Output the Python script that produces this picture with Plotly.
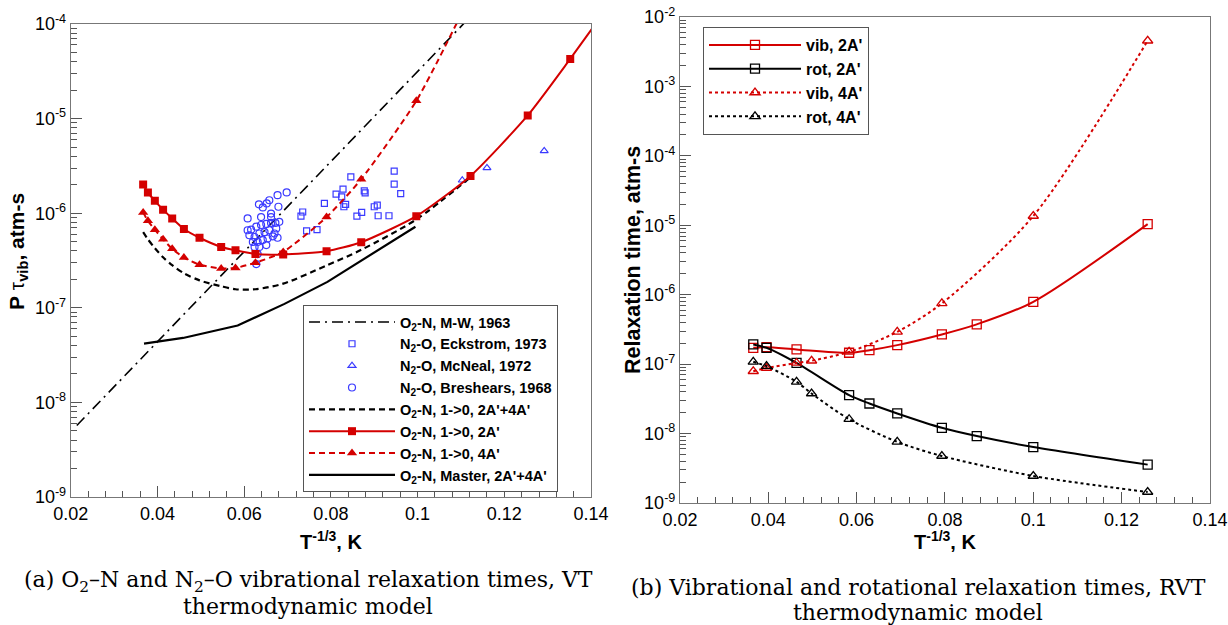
import plotly.graph_objects as go

# ---------------- Left panel data (a) ----------------
mw_x = [0.0214, 0.115]
mw_y = [5.7e-9, 1.63e-4]

eck_x = [0.0846, 0.0812, 0.0828, 0.0825, 0.0834, 0.0830, 0.0785, 0.0877, 0.0879, 0.0946, 0.0946,
         0.0961, 0.0900, 0.0907, 0.0871, 0.0860, 0.0909, 0.0934, 0.0768, 0.0744, 0.0735, 0.0731]
eck_y = [2.42e-6, 1.59e-6, 1.80e-6, 1.49e-6, 1.24e-6, 1.17e-6, 1.27e-6, 1.72e-6, 1.64e-6, 2.78e-6, 2.03e-6,
         1.61e-6, 1.17e-6, 1.22e-6, 1.02e-6, 9.3e-7, 9.4e-7, 9.4e-7, 6.7e-7, 6.5e-7, 1.03e-6, 9.3e-7]

mcn_x = [0.1103, 0.1160, 0.1292]
mcn_y = [2.23e-6, 3.01e-6, 4.56e-6]

bre_x = [0.0608, 0.0634, 0.0643, 0.0658, 0.0662, 0.0677, 0.0679, 0.0698, 0.0652, 0.0616, 0.0628, 0.0639,
         0.0651, 0.0662, 0.0672, 0.0612, 0.0624, 0.0635, 0.0647, 0.0658, 0.0674, 0.0620, 0.0631, 0.0643,
         0.0654, 0.0666, 0.0677, 0.0624, 0.0635, 0.0651, 0.0631, 0.0628, 0.0608, 0.0662, 0.0670, 0.0639, 0.0681]
bre_y = [8.8e-7, 1.24e-6, 1.15e-6, 1.37e-6, 9.9e-7, 1.55e-6, 1.17e-6, 1.66e-6, 1.27e-6, 6.7e-7, 7.2e-7, 7.5e-7,
         7.7e-7, 7.9e-7, 7.9e-7, 5.85e-7, 5.6e-7, 6.1e-7, 6.3e-7, 6.6e-7, 6.9e-7, 4.97e-7, 4.97e-7, 5.2e-7,
         5.4e-7, 5.7e-7, 5.5e-7, 4.4e-7, 4.4e-7, 4.6e-7, 3.7e-7, 2.9e-7, 6.6e-7, 9.1e-7, 6.1e-7, 9.1e-7, 8.1e-7]

sum_x = [0.0367, 0.0378, 0.0394, 0.0413, 0.0434, 0.0461, 0.0497, 0.0547, 0.0580, 0.0626, 0.0690,
         0.0790, 0.0870, 0.0997, 0.1122]
sum_y = [6.3e-7, 5.3e-7, 4.27e-7, 3.42e-7, 2.82e-7, 2.32e-7, 1.95e-7, 1.69e-7, 1.57e-7, 1.57e-7, 1.8e-7,
         2.8e-7, 4.1e-7, 8.6e-7, 2.4e-6]

a2_x = [0.0367, 0.0378, 0.0394, 0.0413, 0.0434, 0.0461, 0.0497, 0.0547, 0.0580, 0.0626, 0.0690,
        0.0790, 0.0870, 0.0997, 0.1122, 0.1254, 0.1352, 0.1494]
a2_y = [2.01e-6, 1.66e-6, 1.35e-6, 1.09e-6, 8.8e-7, 6.8e-7, 5.5e-7, 4.4e-7, 4.05e-7, 3.7e-7, 3.66e-7,
        3.96e-7, 4.93e-7, 9.3e-7, 2.48e-6, 1.08e-5, 4.27e-5, 3.4e-4]

a4_x = [0.0367, 0.0378, 0.0394, 0.0413, 0.0434, 0.0461, 0.0497, 0.0547, 0.0580, 0.0626, 0.0690,
        0.0790, 0.0870, 0.0997, 0.1122]
a4_y = [1.02e-6, 8.3e-7, 6.7e-7, 5.3e-7, 4.2e-7, 3.4e-7, 2.86e-7, 2.6e-7, 2.64e-7, 3.0e-7, 3.9e-7,
        9.1e-7, 2.29e-6, 1.54e-5, 2.0e-4]

ms_x = [0.0369, 0.0459, 0.0585, 0.0693, 0.0792, 0.0995]
ms_y = [4.18e-8, 4.8e-8, 6.5e-8, 1.1e-7, 1.88e-7, 7.2e-7]

# ---------------- Right panel data (b) ----------------
r2_x = [0.0366, 0.0396, 0.0464, 0.0583, 0.0629, 0.0692, 0.0793, 0.0872, 0.1000, 0.1259]
vib2A = [1.72e-7, 1.75e-7, 1.63e-7, 1.46e-7, 1.59e-7, 1.88e-7, 2.68e-7, 3.74e-7, 7.9e-7, 1.04e-5]
rot2A = [1.92e-7, 1.72e-7, 1.04e-7, 3.57e-8, 2.71e-8, 1.95e-8, 1.21e-8, 9.2e-9, 6.4e-9, 3.57e-9]
r4_x = [0.0366, 0.0396, 0.0464, 0.0498, 0.0583, 0.0692, 0.0793, 0.1000, 0.1259]
vib4A = [7.9e-8, 8.8e-8, 1.04e-7, 1.12e-7, 1.50e-7, 2.92e-7, 7.5e-7, 1.36e-5, 4.55e-3]
rot4A = [1.08e-7, 9.35e-8, 5.56e-8, 3.78e-8, 1.61e-8, 7.6e-9, 4.75e-9, 2.45e-9, 1.44e-9]

x_ticks = [0.02, 0.04, 0.06, 0.08, 0.10, 0.12, 0.14]
x_ticktext = ["0.02", "0.04", "0.06", "0.08", "0.1", "0.12", "0.14"]

RED = "#d40000"
BLUE = "#3a3aff"
SANS = "Liberation Sans, Arial, sans-serif"
SERIF = "DejaVu Serif, serif"

fig = go.Figure()

def L(name, x, y, **kw):
    fig.add_trace(go.Scatter(x=x, y=y, name=name, xaxis="x", yaxis="y", legend="legend", **kw))

def R(name, x, y, **kw):
    fig.add_trace(go.Scatter(x=x, y=y, name=name, xaxis="x2", yaxis="y2", legend="legend2", **kw))

L("O<sub>2</sub>-N, M-W, 1963", mw_x, mw_y, mode="lines",
  line=dict(color="black", width=1.6, dash="11px,5px,2px,5px"))
L("N<sub>2</sub>-O, Eckstrom, 1973", eck_x, eck_y, mode="markers",
  marker=dict(symbol="square-open", size=6, color=BLUE, line=dict(width=1.2, color=BLUE)))
L("N<sub>2</sub>-O, McNeal, 1972", mcn_x, mcn_y, mode="markers",
  marker=dict(symbol="triangle-up-open", size=7, color=BLUE, line=dict(width=1.2, color=BLUE)))
L("N<sub>2</sub>-O, Breshears, 1968", bre_x, bre_y, mode="markers",
  marker=dict(symbol="circle-open", size=7, color=BLUE, line=dict(width=1.2, color=BLUE)))
L("O<sub>2</sub>-N, 1->0, 2A'+4A'", sum_x, sum_y, mode="lines",
  line=dict(color="black", width=2.2, dash="6px,4px", shape="spline", smoothing=0.8))
L("O<sub>2</sub>-N, 1->0, 2A'", a2_x, a2_y, mode="lines+markers",
  line=dict(color=RED, width=2, shape="spline", smoothing=0.6),
  marker=dict(symbol="square", size=8, color=RED))
L("O<sub>2</sub>-N, 1->0, 4A'", a4_x, a4_y, mode="lines+markers",
  line=dict(color=RED, width=2, dash="6px,4px", shape="spline", smoothing=0.6),
  marker=dict(symbol="triangle-up", size=9, color=RED))
L("O<sub>2</sub>-N, Master, 2A'+4A'", ms_x, ms_y, mode="lines",
  line=dict(color="black", width=2.2))

R("vib, 2A'", r2_x, vib2A, mode="lines+markers",
  line=dict(color=RED, width=2, shape="spline", smoothing=0.8),
  marker=dict(symbol="square-open", size=9, color=RED, line=dict(width=1.3, color=RED)))
R("rot, 2A'", r2_x, rot2A, mode="lines+markers",
  line=dict(color="black", width=2, shape="spline", smoothing=0.8),
  marker=dict(symbol="square-open", size=9, color="black", line=dict(width=1.3, color="black")))
R("vib, 4A'", r4_x, vib4A, mode="lines+markers",
  line=dict(color=RED, width=2, dash="dot", shape="spline", smoothing=0.8),
  marker=dict(symbol="triangle-up-open", size=9, color=RED, line=dict(width=1.3, color=RED)))
R("rot, 4A'", r4_x, rot4A, mode="lines+markers",
  line=dict(color="black", width=2, dash="dot", shape="spline", smoothing=0.8),
  marker=dict(symbol="triangle-up-open", size=9, color="black", line=dict(width=1.3, color="black")))

def minor_log(lo, hi):
    vals = []
    for d in range(lo, hi):
        for k in range(2, 10):
            vals.append(k * 10.0 ** d)
    return vals

x_minor = [round(0.02 + 0.004 * i, 4) for i in range(31) if i % 5 != 0]

axis_common = dict(showline=True, mirror=True, linecolor="#777777", linewidth=1, automargin=False,
                   showgrid=False, zeroline=False, ticks="inside", tickcolor="#555555",
                   tickfont=dict(family=SANS, size=18, color="black"))

xa = dict(axis_common, range=[0.02, 0.14], tickvals=x_ticks, ticktext=x_ticktext, ticklen=11,
          minor=dict(tickvals=x_minor, ticks="inside", ticklen=6, tickcolor="#555555", showgrid=False))

left_y_vals = [10.0 ** e for e in range(-9, -3)]
left_y_text = ["10<sup>%d</sup>" % e for e in range(-9, -3)]
right_y_vals = [10.0 ** e for e in range(-9, -1)]
right_y_text = ["10<sup>%d</sup>" % e for e in range(-9, -1)]

fig.update_layout(
    width=1228, height=625,
    margin=dict(l=0, r=0, t=0, b=0),
    paper_bgcolor="white", plot_bgcolor="white",
    font=dict(family=SANS, color="black"),
    xaxis=dict(xa, domain=[0.0576, 0.4813], anchor="y"),
    yaxis=dict(axis_common, type="log", range=[-9, -4], domain=[0.2048, 0.9616], anchor="x",
               tickvals=left_y_vals, ticktext=left_y_text, ticklen=11,
               minor=dict(tickvals=minor_log(-9, -4), ticks="inside", ticklen=6,
                          tickcolor="#555555", showgrid=False)),
    xaxis2=dict(xa, domain=[0.5537, 0.9853], anchor="y2"),
    yaxis2=dict(axis_common, type="log", range=[-9, -2], domain=[0.1952, 0.9728], anchor="x2",
                tickvals=right_y_vals, ticktext=right_y_text, ticklen=11,
                minor=dict(tickvals=minor_log(-9, -2), ticks="inside", ticklen=6,
                           tickcolor="#555555", showgrid=False)),
    legend=dict(x=303 / 1228, y=1 - 305 / 625, xanchor="left", yanchor="top",
                bgcolor="white", bordercolor="#555555", borderwidth=1,
                font=dict(family=SANS, size=14.5, color="black", weight="bold"),
                itemwidth=86, tracegroupgap=0),
    legend2=dict(x=703 / 1228, y=1 - 27 / 625, xanchor="left", yanchor="top",
                 bgcolor="white", bordercolor="#555555", borderwidth=1,
                 font=dict(family=SANS, size=16, color="black", weight="bold"),
                 itemwidth=92, tracegroupgap=0),
    showlegend=True,
)

ann = [
    dict(text="<b>P</b> τ<sub><b>vib</b></sub><b>, atm-s</b>", x=18 / 1228, y=1 - 252 / 625,
         textangle=-90, font=dict(family=SANS, size=21)),
    dict(text="<b>Relaxation time, atm-s</b>", x=633 / 1228, y=1 - 260 / 625,
         textangle=-90, font=dict(family=SANS, size=21.5)),
    dict(text="<b>T<sup>-1/3</sup>, K</b>", x=331 / 1228, y=1 - 540 / 625,
         font=dict(family=SANS, size=20)),
    dict(text="<b>T<sup>-1/3</sup>, K</b>", x=945 / 1228, y=1 - 540 / 625,
         font=dict(family=SANS, size=20)),
    dict(text="(a) O<sub>2</sub>–N and N<sub>2</sub>–O vibrational relaxation times, VT",
         x=308 / 1228, y=1 - 581 / 625, font=dict(family=SERIF, size=22)),
    dict(text="thermodynamic model", x=308 / 1228, y=1 - 606 / 625, font=dict(family=SERIF, size=22)),
    dict(text="(b) Vibrational and rotational relaxation times, RVT",
         x=918 / 1228, y=1 - 587 / 625, font=dict(family=SERIF, size=22)),
    dict(text="thermodynamic model", x=918 / 1228, y=1 - 612 / 625, font=dict(family=SERIF, size=22)),
]
for a in ann:
    a.update(xref="paper", yref="paper", showarrow=False, xanchor="center", yanchor="middle")
    fig.add_annotation(**a)

fig.write_html("out.html", config={"displayModeBar": False},
               post_script="document.body.style.margin='0';document.body.style.overflow='hidden';")
